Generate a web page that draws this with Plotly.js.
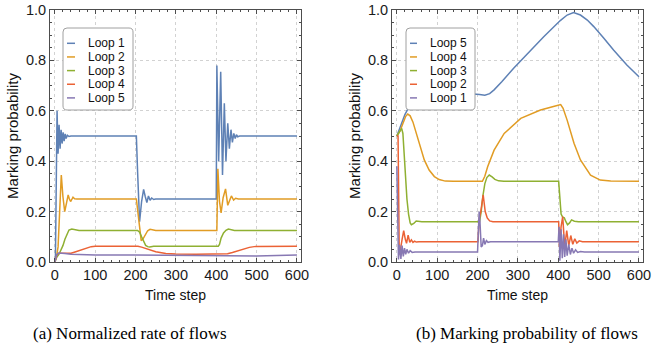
<!DOCTYPE html>
<html><head><meta charset="utf-8">
<script src="https://cdn.plot.ly/plotly-3.0.1.min.js"></script>
<style>html,body{margin:0;padding:0;background:#fff;overflow:hidden}#chart{width:652px;height:349px}</style>
</head><body><div id="chart"></div>
<script>
// ---------- (a) Normalized rate of flows ----------
const rateNames = ['Loop 1', 'Loop 2', 'Loop 3', 'Loop 4', 'Loop 5'];
const rateLoop1T = [0, 1.5, 5.5, 8, 10.5, 13, 15.5, 18, 20.5, 23, 25.5, 28, 31, 35, 40, 202, 205, 210, 215, 220, 224, 228, 232, 236, 240, 245, 250, 400, 401.5, 406, 411, 415.5, 420, 424, 428.5, 432.5, 436.5, 440, 443.5, 447, 450, 453, 458, 600];
const rateLoop1V = [0, 0.02, 0.60, 0.43, 0.545, 0.45, 0.525, 0.47, 0.515, 0.48, 0.508, 0.49, 0.503, 0.498, 0.5, 0.5, 0.36, 0.16, 0.24, 0.288, 0.26, 0.236, 0.262, 0.245, 0.254, 0.248, 0.25, 0.25, 0.78, 0.40, 0.755, 0.345, 0.63, 0.40, 0.55, 0.45, 0.525, 0.475, 0.51, 0.49, 0.505, 0.497, 0.5, 0.5];
const rateLoop2T = [0, 4, 8, 12, 16, 20, 24.5, 29, 33, 36, 39, 42, 45, 49, 55, 202, 206, 210, 214, 218, 224, 230, 236, 242, 250, 401.5, 404, 408, 412, 417, 423, 428.5, 433, 437.5, 443, 448, 455, 600];
const rateLoop2V = [0, 0.02, 0.06, 0.2, 0.345, 0.26, 0.2, 0.235, 0.266, 0.25, 0.24, 0.248, 0.257, 0.251, 0.25, 0.25, 0.19, 0.12, 0.085, 0.09, 0.11, 0.124, 0.13, 0.127, 0.125, 0.125, 0.37, 0.24, 0.195, 0.255, 0.29, 0.225, 0.245, 0.262, 0.246, 0.253, 0.25, 0.25];
const rateLoop3T = [0, 5, 10, 15, 20, 25, 30, 35, 42, 50, 60, 205, 210, 215, 220, 225, 230, 235, 245, 405, 408, 412, 418, 424, 430, 436, 445, 600];
const rateLoop3V = [0, 0.02, 0.03, 0.045, 0.065, 0.09, 0.113, 0.127, 0.131, 0.127, 0.125, 0.125, 0.118, 0.1, 0.08, 0.066, 0.061, 0.06, 0.0625, 0.0625, 0.07, 0.095, 0.115, 0.126, 0.131, 0.128, 0.125, 0.125];
const rateLoop4T = [0, 5, 10, 20, 30, 40, 50, 60, 70, 80, 90, 100, 120, 206, 215, 230, 250, 275, 300, 350, 420, 428, 440, 457, 470, 482, 498, 520, 600];
const rateLoop4V = [0, 0.028, 0.035, 0.034, 0.033, 0.035, 0.04, 0.046, 0.052, 0.057, 0.061, 0.0625, 0.0625, 0.0625, 0.059, 0.05, 0.041, 0.034, 0.032, 0.031, 0.031, 0.033, 0.038, 0.047, 0.053, 0.058, 0.062, 0.0625, 0.0625];
const rateLoop5T = [0, 5, 10, 15, 25, 40, 60, 100, 200, 300, 400, 450, 500, 550, 600];
const rateLoop5V = [0, 0.03, 0.036, 0.036, 0.034, 0.031, 0.029, 0.028, 0.028, 0.026, 0.024, 0.023, 0.024, 0.026, 0.028];

// ---------- (b) Marking probability of flows ----------
const markNames = ['Loop 5', 'Loop 4', 'Loop 3', 'Loop 2', 'Loop 1'];
const markLoop5T = [0, 10, 20, 30, 50, 80, 120, 160, 190, 205, 218, 230, 241, 260, 290, 323, 364, 405, 422, 438, 455, 472, 488, 513, 537, 570, 600];
const markLoop5V = [0.5, 0.54, 0.585, 0.615, 0.645, 0.662, 0.672, 0.671, 0.668, 0.665, 0.662, 0.668, 0.683, 0.715, 0.770, 0.825, 0.894, 0.958, 0.980, 0.99, 0.98, 0.96, 0.934, 0.888, 0.841, 0.782, 0.735];
const markLoop4T = [0, 8, 15, 22, 27, 33, 40, 48, 58, 68, 80, 93, 105, 120, 140, 212, 218, 225, 241, 266, 307, 356, 395, 406, 412, 422, 439, 455, 480, 504, 530, 600];
const markLoop4V = [0.5, 0.52, 0.55, 0.578, 0.587, 0.58, 0.555, 0.51, 0.455, 0.405, 0.365, 0.339, 0.327, 0.321, 0.32, 0.32, 0.34, 0.378, 0.444, 0.51, 0.57, 0.603, 0.62, 0.625, 0.61, 0.563, 0.471, 0.405, 0.345, 0.325, 0.321, 0.32];
const markLoop3T = [0, 6, 12, 15, 18, 21, 25, 29, 33, 36, 42, 48, 55, 62, 205, 209, 213, 218, 223, 229, 236, 243, 252, 265, 401, 404, 407, 411, 415, 419, 423, 428, 433, 440, 450, 600];
const markLoop3V = [0.5, 0.515, 0.53, 0.51, 0.43, 0.34, 0.25, 0.19, 0.155, 0.148, 0.153, 0.163, 0.161, 0.16, 0.16, 0.2, 0.26, 0.31, 0.335, 0.345, 0.338, 0.328, 0.322, 0.32, 0.32, 0.25, 0.19, 0.178, 0.175, 0.16, 0.148, 0.155, 0.167, 0.162, 0.16, 0.16];
const markLoop2T = [0, 3, 6, 9, 13, 17, 21, 24, 28, 32, 36, 40, 44, 48, 55, 201, 204, 208, 214, 219, 224, 230, 238, 401, 403, 407, 411, 416, 421, 426, 431, 436, 441, 446, 452, 460, 600];
const markLoop2V = [0.5, 0.5, 0.03, 0.05, 0.09, 0.124, 0.09, 0.074, 0.107, 0.078, 0.088, 0.078, 0.083, 0.079, 0.08, 0.08, 0.17, 0.2, 0.266, 0.2, 0.175, 0.163, 0.16, 0.16, 0.06, 0.14, 0.18, 0.06, 0.125, 0.065, 0.105, 0.07, 0.092, 0.075, 0.084, 0.08, 0.08];
const markLoop1T = [0, 2, 4, 7, 10, 13, 16, 19, 22, 25, 29, 33, 38, 45, 200, 202, 204, 206, 209, 212, 215, 218, 222, 226, 232, 400, 402, 404, 407, 410, 413, 416, 419, 422, 426, 430, 434, 438, 443, 448, 455, 465, 600];
const markLoop1V = [0.38, 0.2, 0.01, 0.068, 0.012, 0.065, 0.022, 0.055, 0.03, 0.05, 0.035, 0.045, 0.038, 0.04, 0.04, 0.12, 0.2, 0.16, 0.06, 0.065, 0.095, 0.07, 0.085, 0.078, 0.08, 0.08, 0.14, 0.005, 0.13, 0.015, 0.11, 0.02, 0.09, 0.025, 0.07, 0.03, 0.055, 0.035, 0.048, 0.038, 0.042, 0.04, 0.04];

const xTickVals = [0, 100, 200, 300, 400, 500, 600];
const yTickVals = [0, 0.2, 0.4, 0.6, 0.8, 1.0];
const xTitle = 'Time step';
const yTitle = 'Marking probability';
const captions = ['(a) Normalized rate of flows', '(b) Marking probability of flows'];
const palette = ['#5E81B5', '#E19C24', '#8FB032', '#EB6235', '#8778B3'];

// ---------- build ----------
const W = 652, H = 349;
const rateT = [rateLoop1T, rateLoop2T, rateLoop3T, rateLoop4T, rateLoop5T];
const rateV = [rateLoop1V, rateLoop2V, rateLoop3V, rateLoop4V, rateLoop5V];
const markT = [markLoop5T, markLoop4T, markLoop3T, markLoop2T, markLoop1T];
const markV = [markLoop5V, markLoop4V, markLoop3V, markLoop2V, markLoop1V];

const traces = [];
rateNames.forEach((n, i) => traces.push({x: rateT[i], y: rateV[i], name: n, mode: 'lines', type: 'scatter', xaxis: 'x', yaxis: 'y', showlegend: false, line: {color: palette[i], width: 1.5}}));
markNames.forEach((n, i) => traces.push({x: markT[i], y: markV[i], name: n, mode: 'lines', type: 'scatter', xaxis: 'x2', yaxis: 'y2', showlegend: false, line: {color: palette[i], width: 1.5}}));

const sans = 'Liberation Sans, Arial, sans-serif';
const frame = '#4d4d4d';
function xAx(dom, anchor) {
  return {domain: dom, anchor: anchor, range: [-12, 610], tickvals: xTickVals, ticktext: xTickVals.map(String),
    showline: true, linecolor: frame, linewidth: 1, mirror: 'allticks', ticks: 'inside', ticklen: 4, tickcolor: frame,
    ticklabeloverflow: 'allow',
    showgrid: true, gridcolor: '#d2d2d2', griddash: 'dot', gridwidth: 1, zeroline: false,
    tickfont: {family: sans, size: 14.5, color: '#1a1a1a'},
    minor: {dtick: 20, tick0: 0, ticks: 'inside', ticklen: 2, tickcolor: frame, showgrid: false},
    title: {text: xTitle, font: {family: sans, size: 14, color: '#111'}, standoff: 7}};
}
function yAx(dom, anchor) {
  return {domain: dom, anchor: anchor, range: [0, 1], tickvals: yTickVals, ticktext: yTickVals.map(v => v.toFixed(1)),
    showline: true, linecolor: frame, linewidth: 1, mirror: 'allticks', ticks: 'inside', ticklen: 4, tickcolor: frame,
    ticklabeloverflow: 'allow',
    showgrid: true, gridcolor: '#d2d2d2', griddash: 'dot', gridwidth: 1, zeroline: false,
    tickfont: {family: sans, size: 14.5, color: '#1a1a1a'},
    minor: {dtick: 0.05, tick0: 0, ticks: 'inside', ticklen: 2, tickcolor: frame, showgrid: false},
    title: {text: yTitle, font: {family: sans, size: 15, color: '#111'}, standoff: 3}};
}
const yDom = [1 - 262 / H, 1 - 10 / H];
const px = p => p / W, py = p => 1 - p / H;

const shapes = [], annotations = [];
function roundRect(x0, y0, x1, y1, r) {
  const X = v => px(v).toFixed(5), Y = v => py(v).toFixed(5);
  return 'M' + X(x0 + r) + ',' + Y(y0) + ' L' + X(x1 - r) + ',' + Y(y0) + ' Q' + X(x1) + ',' + Y(y0) + ' ' + X(x1) + ',' + Y(y0 + r) +
    ' L' + X(x1) + ',' + Y(y1 - r) + ' Q' + X(x1) + ',' + Y(y1) + ' ' + X(x1 - r) + ',' + Y(y1) +
    ' L' + X(x0 + r) + ',' + Y(y1) + ' Q' + X(x0) + ',' + Y(y1) + ' ' + X(x0) + ',' + Y(y1 - r) +
    ' L' + X(x0) + ',' + Y(y0 + r) + ' Q' + X(x0) + ',' + Y(y0) + ' ' + X(x0 + r) + ',' + Y(y0) + ' Z';
}
function legend(names, bx0, bx1, by0, by1, sx0, sx1, tx, ry0, dy) {
  shapes.push({type: 'path', xref: 'paper', yref: 'paper', path: roundRect(bx0, by0, bx1, by1, 4), fillcolor: '#fff', line: {color: '#a0a0a0', width: 1}, layer: 'above'});
  names.forEach((n, i) => {
    const yy = ry0 + i * dy;
    shapes.push({type: 'line', xref: 'paper', yref: 'paper', x0: px(sx0), x1: px(sx1), y0: py(yy), y1: py(yy), line: {color: palette[i], width: 1.5}, layer: 'above'});
    annotations.push({xref: 'paper', yref: 'paper', x: px(tx), y: py(yy), xanchor: 'left', yanchor: 'middle', showarrow: false, borderpad: 0, text: n, font: {family: sans, size: 12, color: '#111'}});
  });
}
legend(rateNames, 63, 133, 28, 110, 67, 75, 87, 43.3, 13.65);
legend(markNames, 406, 475, 28, 110, 410, 417, 429, 43.3, 13.65);
annotations.push({xref: 'paper', yref: 'paper', x: px(130), y: py(333), xanchor: 'center', yanchor: 'middle', showarrow: false, text: captions[0], font: {family: 'Liberation Serif, Times New Roman, serif', size: 17, color: '#000'}});
annotations.push({xref: 'paper', yref: 'paper', x: px(527), y: py(333), xanchor: 'center', yanchor: 'middle', showarrow: false, text: captions[1], font: {family: 'Liberation Serif, Times New Roman, serif', size: 17, color: '#000'}});

const layout = {
  width: W, height: H, margin: {l: 0, r: 0, t: 0, b: 0}, paper_bgcolor: '#fff', plot_bgcolor: '#fff', showlegend: false,
  xaxis: xAx([50 / W, 301 / W], 'y'), yaxis: yAx(yDom, 'x'),
  xaxis2: xAx([392 / W, 643 / W], 'y2'), yaxis2: yAx(yDom, 'x2'),
  shapes: shapes, annotations: annotations
};
Plotly.newPlot('chart', traces, layout, {displayModeBar: false, staticPlot: true});
</script></body></html>
